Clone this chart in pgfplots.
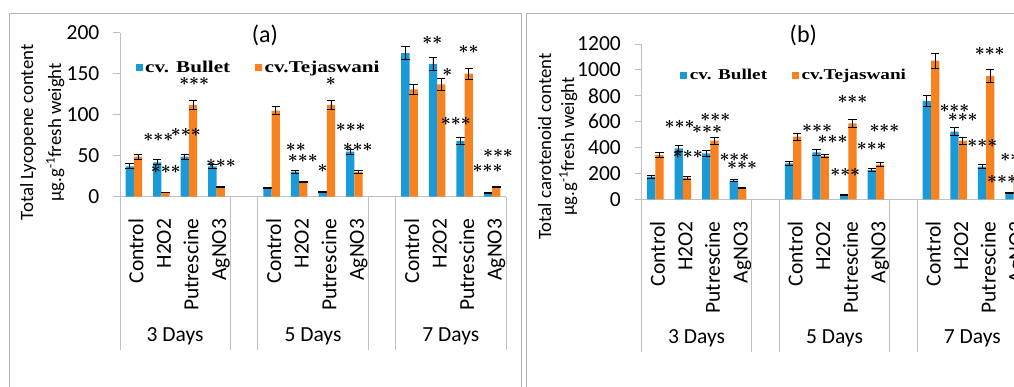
\documentclass[border=0pt]{standalone}
\usepackage{fontspec}
\setmainfont{Carlito}
\newfontfamily\legfont[FakeStretch=1.28]{Liberation Serif}
\usepackage{pgfplots}
\usepackage{pgfplotstable}
\pgfplotsset{compat=1.18}
\definecolor{cblue}{HTML}{1B9AD8}
\definecolor{corange}{HTML}{F7821F}
\definecolor{axgray}{HTML}{BFBFBF}
\definecolor{framegray}{HTML}{B4B4B4}
\newcommand{\fsz}[1]{\fontsize{#1}{#1}\selectfont}
\newcommand{\stA}{\mbox{\boldmath$\ast$}}
\newcommand{\stB}{\stA\stA}
\newcommand{\stC}{\stA\stA\stA}

\pgfplotstableread{
xb     xo     b     be    o     oe
0.35   0.65   37    3     49    3
1.35   1.65   42    3     5.5   0.3
2.35   2.65   49    3     112   6
3.35   3.65   37    2     11.5  0.5
5.35   5.65   11    0.5   105   5
6.35   6.65   30.5  2     18    1
7.35   7.65   6     0.5   112   6
8.35   8.65   55    3     30    2
10.35  10.65  175   8     131   6
11.35  11.65  162   8     137   7
12.35  12.65  68    4     150   7
13.35  13.65  5     0.5   11.5  0.5
}\lycdata

\pgfplotstableread{
xb     xo     b     be    o     oe
0.35   0.65   175   13    342   20
1.35   1.65   394   26    167   10
2.35   2.65   355   20    453   26
3.35   3.65   144   9     85    4
5.35   5.65   278   18    484   26
6.35   6.65   363   23    335   15
7.35   7.65   31    4     587   33
8.35   8.65   227   13    268   15
10.35  10.65  760   45    1071  57
11.35  11.65  523   33    453   28
12.35  12.65  252   15    953   52
13.35  13.65  46    4     200   10
}\cardata

\pgfplotsset{
  panel/.style={
    scale only axis, width=386pt,
    xmin=0, xmax=14, ymin=0,
    axis x line*=bottom, axis y line*=left,
    axis line style={axgray, line width=0.9pt},
    clip=false,
    xtick={0.845,1.845,2.845,3.845,5.845,6.845,7.845,8.845,10.845,11.845,12.845,13.845},
    xticklabels={Control,H2O2,Putrescine,AgNO3,Control,H2O2,Putrescine,AgNO3,Control,H2O2,Putrescine,AgNO3},
    xticklabel style={rotate=90, anchor=base east, inner sep=0pt, font=\fsz{21.5}},
    xticklabel shift=15pt,
    x tick style={draw=none},
    y tick style={draw=axgray, line width=0.9pt},
    tick align=outside,
    major tick length=7pt,
    yticklabel style={font=\fsz{21.5}, inner sep=0pt, anchor=east, xshift=-13.5pt},
    /pgf/number format/assume math mode=true,
    /pgf/number format/1000 sep={},
    extra x ticks={0,4,5,9,10,14},
    extra x tick labels={},
    extra x tick style={major tick length=153pt, tick align=outside,
      x tick style={draw=axgray, line width=0.9pt}},
    legend columns=2,
    legend style={draw=none, fill=none, inner sep=0pt,
      nodes={inner sep=0pt},
      /tikz/every odd column/.append style={column sep=2.5pt},
      /tikz/every even column/.append style={column sep=25pt}},
  },
  barB/.style={ybar, bar width=8.27pt, bar shift=0pt, fill=cblue, draw=none,
    legend image code/.code={\fill[cblue] (0pt,-3.5pt) rectangle (7pt,3.5pt);}},
  barO/.style={ybar, bar width=8.27pt, bar shift=0pt, fill=corange, draw=none,
    legend image code/.code={\fill[corange] (0pt,-3.5pt) rectangle (7pt,3.5pt);}},
}

\begin{document}
\begin{tikzpicture}
\useasboundingbox (0pt,0pt) rectangle (1014pt,387pt);
\clip (0pt,0pt) rectangle (1014pt,387pt);
\fill[white] (0pt,0pt) rectangle (1014pt,387pt);
\draw[framegray, line width=1pt] (9pt,-5pt) -- (9pt,373.7pt) -- (521.7pt,373.7pt) -- (521.7pt,-5pt);
\draw[framegray, line width=1pt] (526.7pt,-5pt) -- (526.7pt,373.7pt) -- (1040pt,373.7pt);

% ---------------- panel (a)
\begin{axis}[panel, at={(120pt,190.3pt)}, anchor=south west, height=164pt,
  ymax=200, ytick={0,50,100,150,200},
  legend style={at={(0.04,0.785)}, anchor=west, font=\legfont\bfseries\fsz{16.5}}]
\addplot[barB,
  error bars/.cd, y dir=both, y explicit,
  error bar style={black, line width=0.8pt},
  error mark options={rotate=90, black, line width=0.8pt, mark size=4.2pt}]
  table[x=xb, y=b, y error=be] {\lycdata};
\addlegendentry{cv. Bullet}
\addplot[barO,
  error bars/.cd, y dir=both, y explicit,
  error bar style={black, line width=0.8pt},
  error mark options={rotate=90, black, line width=0.8pt, mark size=4.2pt}]
  table[x=xo, y=o, y error=oe] {\lycdata};
\addlegendentry{cv.Tejaswani}
\node[anchor=base, font=\fsz{21.5}, yshift=-145pt] at (axis cs:2,0) {3 Days};
\node[anchor=base, font=\fsz{21.5}, yshift=-145pt] at (axis cs:7,0) {5 Days};
\node[anchor=base, font=\fsz{21.5}, yshift=-145pt] at (axis cs:12,0) {7 Days};
\node[font=\fsz{19}, inner sep=0pt] at (axis cs:1.39,72.4) {\stC};
\node[font=\fsz{19}, inner sep=0pt] at (axis cs:1.66,33.5) {\stC};
\node[font=\fsz{19}, inner sep=0pt] at (axis cs:2.39,78) {\stC};
\node[font=\fsz{19}, inner sep=0pt] at (axis cs:2.69,140) {\stC};
\node[font=\fsz{19}, inner sep=0pt] at (axis cs:3.66,40.7) {\stC};
\node[font=\fsz{19}, inner sep=0pt] at (axis cs:6.38,59.8) {\stB};
\node[font=\fsz{19}, inner sep=0pt] at (axis cs:6.63,47.2) {\stC};
\node[font=\fsz{19}, inner sep=0pt] at (axis cs:7.35,34.6) {\stA};
\node[font=\fsz{19}, inner sep=0pt] at (axis cs:7.65,140) {\stA};
\node[font=\fsz{19}, inner sep=0pt] at (axis cs:8.37,84) {\stC};
\node[font=\fsz{19}, inner sep=0pt] at (axis cs:8.62,59.8) {\stC};
\node[font=\fsz{19}, inner sep=0pt] at (axis cs:11.33,191) {\stB};
\node[font=\fsz{19}, inner sep=0pt] at (axis cs:11.87,152) {\stA};
\node[font=\fsz{19}, inner sep=0pt] at (axis cs:12.18,91.5) {\stC};
\node[font=\fsz{19}, inner sep=0pt] at (axis cs:12.64,179) {\stB};
\node[font=\fsz{19}, inner sep=0pt] at (axis cs:13.33,34.6) {\stC};
\node[font=\fsz{19}, inner sep=0pt] at (axis cs:13.71,52.9) {\stC};
\end{axis}
\node[font=\fsz{24}] at (265pt,352pt) {(a)};
\node[rotate=90, anchor=base, font=\fsz{18.8}] at (33pt,254.5pt) {Total Lycopene content};
\node[rotate=90, anchor=base, font=\fsz{18.8}] at (61pt,254.5pt) {µg.g\textsuperscript{-1}fresh weight};

% ---------------- panel (b)
\begin{axis}[panel, at={(641.5pt,187.7pt)}, anchor=south west, height=155.3pt,
  ymax=1200, ytick={0,200,400,600,800,1000,1200},
  legend style={at={(0.1,0.80)}, anchor=west, font=\legfont\bfseries\fsz{15}}]
\addplot[barB,
  error bars/.cd, y dir=both, y explicit,
  error bar style={black, line width=0.8pt},
  error mark options={rotate=90, black, line width=0.8pt, mark size=4.2pt}]
  table[x=xb, y=b, y error=be] {\cardata};
\addlegendentry{cv. Bullet}
\addplot[barO,
  error bars/.cd, y dir=both, y explicit,
  error bar style={black, line width=0.8pt},
  error mark options={rotate=90, black, line width=0.8pt, mark size=4.2pt}]
  table[x=xo, y=o, y error=oe] {\cardata};
\addlegendentry{cv.Tejaswani}
\node[anchor=base, font=\fsz{21.5}, yshift=-144pt] at (axis cs:2,0) {3 Days};
\node[anchor=base, font=\fsz{21.5}, yshift=-144pt] at (axis cs:7,0) {5 Days};
\node[anchor=base, font=\fsz{21.5}, yshift=-144pt] at (axis cs:12,0) {7 Days};
\node[font=\fsz{18.5}, inner sep=0pt] at (axis cs:1.38,582) {\stC};
\node[font=\fsz{18.5}, inner sep=0pt] at (axis cs:1.68,348) {\stC};
\node[font=\fsz{18.5}, inner sep=0pt] at (axis cs:2.38,541) {\stC};
\node[font=\fsz{18.5}, inner sep=0pt] at (axis cs:2.68,634) {\stC};
\node[font=\fsz{18.5}, inner sep=0pt] at (axis cs:3.37,325) {\stC};
\node[font=\fsz{18.5}, inner sep=0pt] at (axis cs:3.65,265) {\stC};
\node[font=\fsz{18.5}, inner sep=0pt] at (axis cs:6.37,549) {\stC};
\node[font=\fsz{18.5}, inner sep=0pt] at (axis cs:6.93,463) {\stC};
\node[font=\fsz{18.5}, inner sep=0pt] at (axis cs:7.39,208) {\stC};
\node[font=\fsz{18.5}, inner sep=0pt] at (axis cs:7.65,773) {\stC};
\node[font=\fsz{18.5}, inner sep=0pt] at (axis cs:8.35,412) {\stC};
\node[font=\fsz{18.5}, inner sep=0pt] at (axis cs:8.81,549) {\stC};
\node[font=\fsz{18.5}, inner sep=0pt] at (axis cs:11.35,703) {\stC};
\node[font=\fsz{18.5}, inner sep=0pt] at (axis cs:11.65,631) {\stC};
\node[font=\fsz{18.5}, inner sep=0pt] at (axis cs:12.36,433) {\stC};
\node[font=\fsz{18.5}, inner sep=0pt] at (axis cs:12.63,1141) {\stC};
\node[font=\fsz{18.5}, inner sep=0pt] at (axis cs:13.08,155) {\stC};
\node[font=\fsz{18.5}, inner sep=0pt] at (axis cs:13.38,324) {\stB};
\end{axis}
\node[font=\fsz{24}] at (803.3pt,352pt) {(b)};
\node[rotate=90, anchor=base, font=\fsz{18.8}] at (551pt,240.5pt) {Total carotenoid content};
\node[rotate=90, anchor=base, font=\fsz{18.8}] at (574pt,240.5pt) {µg.g\textsuperscript{-1}fresh weight};
\end{tikzpicture}
\end{document}
